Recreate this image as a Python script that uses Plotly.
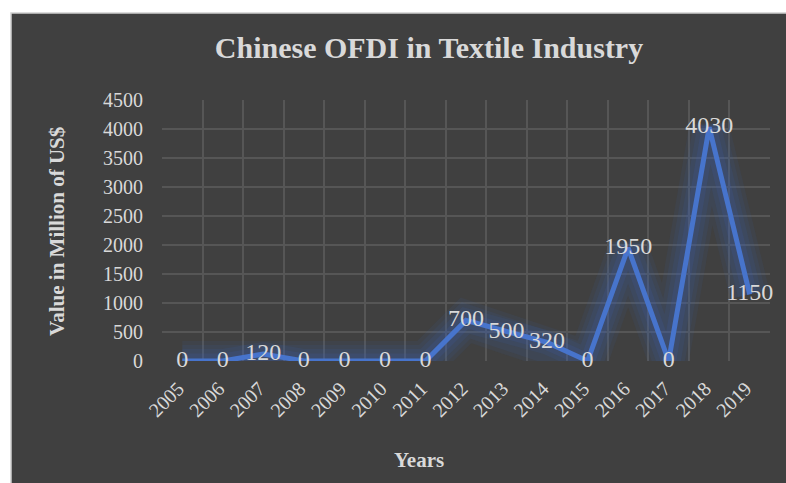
import plotly.graph_objects as go

years = [2005, 2006, 2007, 2008, 2009, 2010, 2011, 2012, 2013, 2014, 2015, 2016, 2017, 2018, 2019]
values = [0, 0, 120, 0, 0, 0, 0, 700, 500, 320, 0, 1950, 0, 4030, 1150]
y_ticks = [0, 500, 1000, 1500, 2000, 2500, 3000, 3500, 4000, 4500]

title_text = "Chinese OFDI in Textile Industry"
y_title = "Value in Million of US$"
x_title = "Years"

SERIF = "Times New Roman, Liberation Serif, serif"
BG = "#404040"
TXT = "#d9d9d9"
LINE = "#4774cc"

W, H = 786, 483
L, R, T, B = 162, 16, 100, 122
pw, ph = W - L - R, H - T - B


def px_x(x):
    return (x - L) / pw


def px_y(y):
    return (H - B - y) / ph


fig = go.Figure()

# soft glow beneath the line
for width, alpha in [(40, 0.09), (32, 0.10), (24, 0.12), (15, 0.16)]:
    fig.add_trace(go.Scatter(
        x=years, y=values, mode="lines",
        line=dict(color=f"rgba(60,95,180,{alpha})", width=width),
        hoverinfo="skip", showlegend=False, cliponaxis=False,
    ))

fig.add_trace(go.Scatter(
    x=years, y=values, mode="lines+text",
    line=dict(color=LINE, width=5),
    text=[str(v) for v in values],
    textposition="middle center",
    textfont=dict(family=SERIF, size=24, color=TXT),
    showlegend=False, cliponaxis=False,
))

# dark chart area with light border
fig.add_shape(type="rect", xref="paper", yref="paper",
              x0=px_x(11), x1=px_x(800), y0=px_y(500), y1=px_y(13),
              fillcolor=BG, line=dict(color="#d0d0d0", width=1.5), layer="below")

fig.update_layout(
    width=W, height=H,
    margin=dict(l=L, r=R, t=T, b=B),
    paper_bgcolor="white",
    plot_bgcolor=BG,
    title=dict(text=f"<b>{title_text}</b>", xref="container", yref="container",
               x=429 / W, y=1 - 47 / H, xanchor="center", yanchor="middle",
               font=dict(family=SERIF, size=30, color=TXT)),
    xaxis=dict(
        range=[years[0] - 0.5, years[-1] + 0.5],
        tickmode="array", tickvals=years, ticktext=[str(y) for y in years],
        tickangle=-45, showgrid=False, zeroline=False, showline=False,
        tickfont=dict(family=SERIF, size=20, color=TXT),
        ticks="", ticklabelstandoff=11, ticklabelshift=-4,
        minor=dict(tickmode="linear", tick0=years[0] - 0.5, dtick=1,
                   showgrid=True, gridcolor="#565656", gridwidth=1.5),
    ),
    yaxis=dict(
        range=[0, 4500], tickmode="array", tickvals=y_ticks,
        showgrid=True, gridcolor="#565656", gridwidth=1.5,
        zeroline=False, showline=False, ticks="", ticklabelstandoff=18,
        tickfont=dict(family=SERIF, size=20, color=TXT),
    ),
    annotations=[
        dict(text=f"<b>{y_title}</b>", xref="paper", yref="paper",
             x=px_x(57), y=px_y(232), textangle=-90, showarrow=False,
             xanchor="center", yanchor="middle",
             font=dict(family=SERIF, size=21, color=TXT)),
        dict(text=f"<b>{x_title}</b>", xref="paper", yref="paper",
             x=px_x(419), y=px_y(460), showarrow=False,
             xanchor="center", yanchor="middle",
             font=dict(family=SERIF, size=21, color=TXT)),
    ],
)

fig.write_html("out.html")
